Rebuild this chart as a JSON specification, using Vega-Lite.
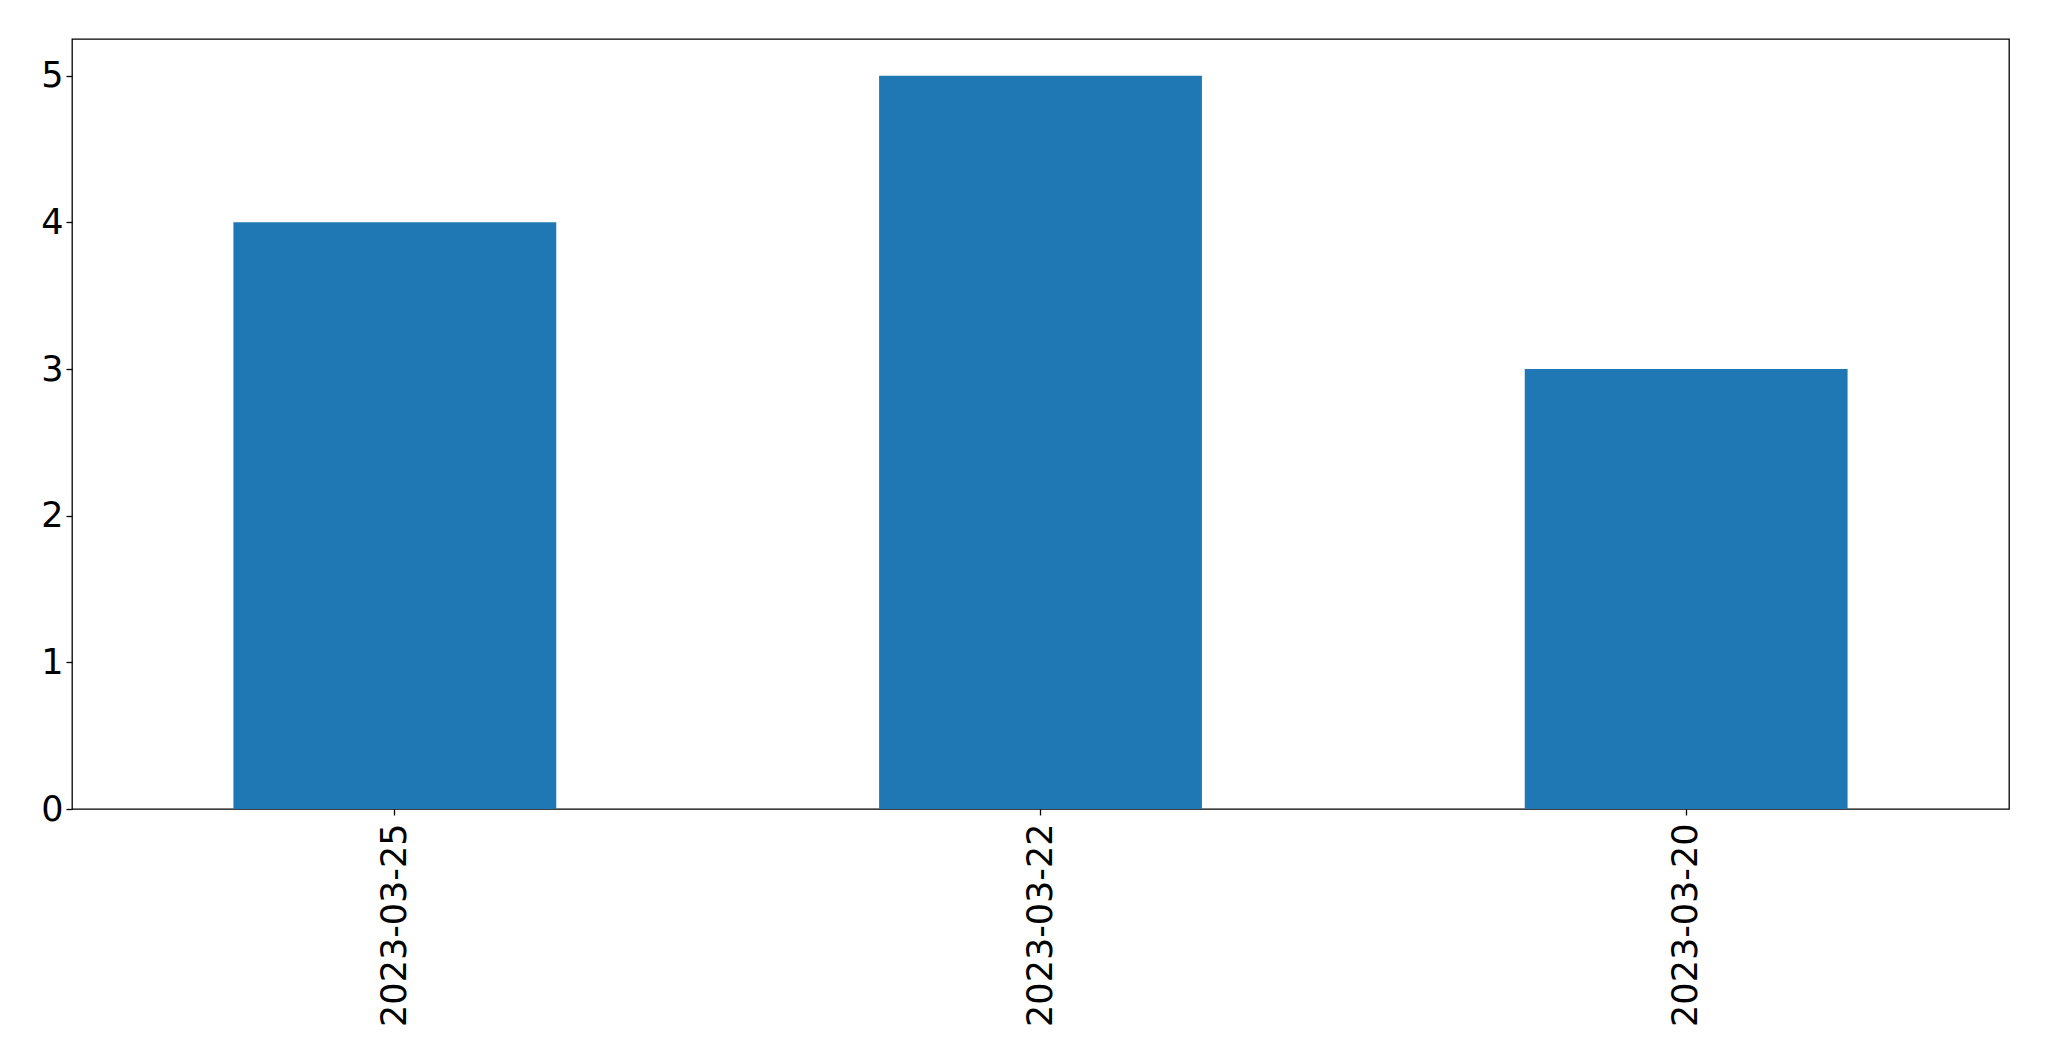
{
  "$schema": "https://vega.github.io/schema/vega-lite/v6.json",
  "width": 1937,
  "height": 770,
  "autosize": {"type": "none"},
  "padding": {"left": 72, "top": 39, "right": 40, "bottom": 252},
  "background": "white",
  "config": {
    "view": {"stroke": "black", "strokeWidth": 1.3},
    "font": "DejaVu Sans",
    "axis": {
      "domain": false,
      "grid": false,
      "tickColor": "black",
      "tickWidth": 1.3,
      "tickSize": 6,
      "labelColor": "black",
      "labelFont": "DejaVu Sans",
      "labelFontSize": 35,
      "labelLimit": 0,
      "title": null
    }
  },
  "data": {
    "values": [
      {"date": "2023-03-25", "count": 4},
      {"date": "2023-03-22", "count": 5},
      {"date": "2023-03-20", "count": 3}
    ]
  },
  "mark": {"type": "bar", "color": "#1f77b4"},
  "encoding": {
    "x": {
      "field": "date",
      "type": "nominal",
      "sort": null,
      "scale": {"paddingInner": 0.5, "paddingOuter": 0.25},
      "axis": {"labelAngle": 270, "labelPadding": 8, "title": null}
    },
    "y": {
      "field": "count",
      "type": "quantitative",
      "scale": {"domain": [0, 5.25], "nice": false, "zero": true},
      "axis": {"values": [0, 1, 2, 3, 4, 5], "labelPadding": 3, "title": null}
    }
  }
}
